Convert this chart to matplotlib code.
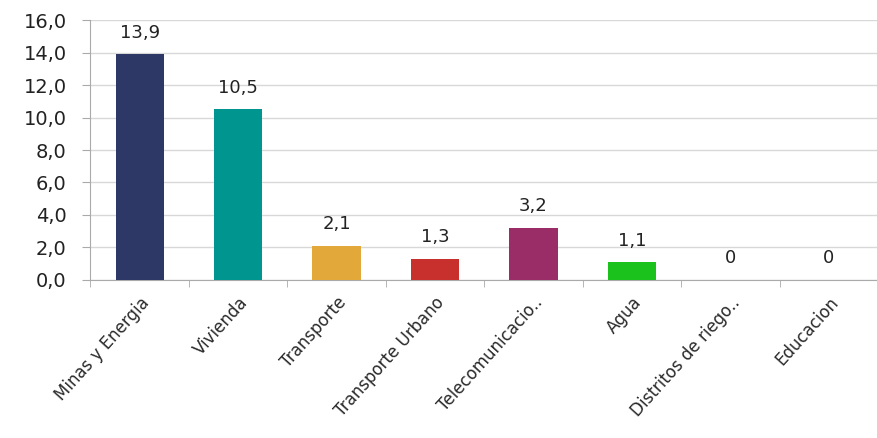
import matplotlib
matplotlib.use("Agg")
import matplotlib.pyplot as plt
import numpy as np

categories = ["Minas y Energia", "Vivienda", "Transporte", "Transporte Urbano",
              "Telecomunicacio..", "Agua", "Distritos de riego..", "Educacion"]
values = [13.9, 10.5, 2.1, 1.3, 3.2, 1.1, 0, 0]
value_labels = ["13,9", "10,5", "2,1", "1,3", "3,2", "1,1", "0", "0"]
yticks = [0, 2, 4, 6, 8, 10, 12, 14, 16]
ytick_labels = ["0,0", "2,0", "4,0", "6,0", "8,0", "10,0", "12,0", "14,0", "16,0"]
colors = ["#2E3866", "#00968F", "#E2A83A", "#C8302E", "#9A2C68", "#1CC21C", "#FFFFFF", "#FFFFFF"]

fig = plt.figure(figsize=(8.78, 4.38), dpi=100)
ax = fig.add_axes([0.103, 0.361, 0.897, 0.593])

x = np.arange(len(categories))
ax.bar(x, values, width=0.49, color=colors, zorder=3)
ax.set_xlim(-0.5, len(categories) - 0.5)
ax.set_ylim(0, 16)
ax.set_yticks(yticks)
ax.set_yticklabels(ytick_labels, fontsize=14, color="#222222")
ax.yaxis.grid(True, color="#D8D8D8", linewidth=1, zorder=0)

for xi, v, lab in zip(x, values, value_labels):
    ax.annotate(lab, (xi, v), xytext=(0, 9), textcoords="offset points",
                ha="center", va="bottom", fontsize=13, color="#222222")

ax.set_xticks(x)
ax.set_xticklabels(categories, rotation=48, ha="right", rotation_mode="anchor",
                   fontsize=12, color="#2A2A2A")
ax.tick_params(axis="x", which="major", length=0, pad=10)
ax.set_xticks(np.arange(-0.5, len(categories) + 0.5, 1), minor=True)
ax.tick_params(axis="x", which="minor", length=5, color="#AAAAAA")
ax.tick_params(axis="y", length=6, color="#AAAAAA", pad=11)

for s in ["top", "right"]:
    ax.spines[s].set_visible(False)
ax.spines["left"].set_color("#AAAAAA")
ax.spines["bottom"].set_color("#AAAAAA")

fig.savefig("out.png", dpi=100)
